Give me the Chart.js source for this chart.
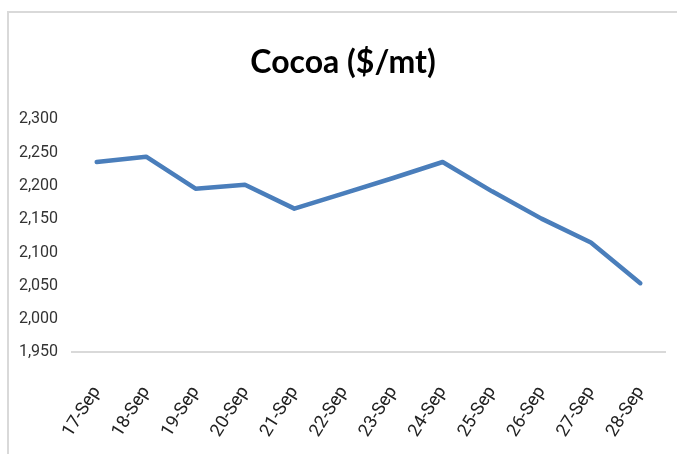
<!DOCTYPE html>
<html>
<head>
<meta charset="utf-8">
<script src="https://cdn.jsdelivr.net/npm/chart.js@4"></script>
<style>
  html, body { margin: 0; padding: 0; background: #fff; }
  #frame {
    position: absolute; left: 7px; top: 11px;
    width: 668px; height: 441px;
    border-top: 2px solid #d9d9d9; border-left: 2px solid #d9d9d9;
  }
</style>
</head>
<body>
<div id="frame"><canvas id="cocoaChart"></canvas></div>
<script>
// dates along the x axis
const days = ['17-Sep', '18-Sep', '19-Sep', '20-Sep', '21-Sep', '22-Sep',
              '23-Sep', '24-Sep', '25-Sep', '26-Sep', '27-Sep', '28-Sep'];
// cocoa price, $/mt
const cocoaPrices = [2236, 2244, 2196, 2202, 2166, 2189, 2212, 2236, 2192, 2151, 2115, 2054];
const yMin = 1950;
const yMax = 2300;
const yStep = 50;

const labelFont = 'Roboto, "Open Sans", sans-serif';

const ctx = document.getElementById('cocoaChart').getContext('2d');
const cocoaChart = new Chart(ctx, {
    type: 'line',
    data: {
        labels: days,
        datasets: [{
            label: 'Cocoa',
            data: cocoaPrices,
            borderColor: '#4a7ebb',
            borderWidth: 4.5,
            pointRadius: 0,
            tension: 0,
            borderJoinStyle: 'round',
            borderCapStyle: 'round'
        }]
    },
    options: {
        responsive: true,
        maintainAspectRatio: false,
        animation: false,
        layout: { padding: { top: 30, left: 0, right: 0, bottom: -17 } },
        plugins: {
            legend: { display: false },
            tooltip: { enabled: false },
            title: {
                display: true,
                text: 'Cocoa ($/mt)',
                color: '#000',
                font: { family: 'Lato, "DejaVu Sans", sans-serif', size: 32, weight: 'bold' },
                padding: { top: 0, bottom: 38 }
            }
        },
        scales: {
            x: {
                offset: true,
                grid: { display: false, drawTicks: false },
                border: { display: true, color: '#d9d9d9', width: 2 },
                // keep the plot running close to the right edge like the original
                afterFit: axis => { axis.paddingRight = 12; },
                ticks: {
                    color: '#222',
                    font: { family: labelFont, size: 18 },
                    minRotation: 58,
                    maxRotation: 58,
                    padding: 30,
                    autoSkip: false
                }
            },
            y: {
                min: yMin,
                max: yMax,
                grid: { display: false, drawTicks: false },
                border: { display: false },
                afterFit: axis => { axis.width = 63; },
                ticks: {
                    stepSize: yStep,
                    color: '#333',
                    padding: 14,
                    font: { family: labelFont, size: 16 },
                    callback: v => v.toLocaleString('en-US')
                }
            }
        }
    }
});
</script>
</body>
</html>
